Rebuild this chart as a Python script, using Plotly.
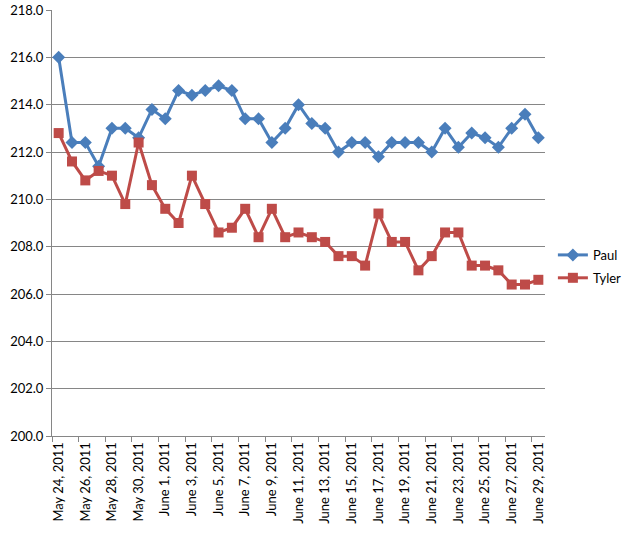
import datetime as dt
import plotly.graph_objects as go

start = dt.date(2011, 5, 24)
dates = [start + dt.timedelta(days=i) for i in range(37)]
categories = [f"{d.strftime('%B')} {d.day}, {d.year}" for d in dates]

paul = [216.0, 212.4, 212.4, 211.4, 213.0, 213.0, 212.6, 213.8, 213.4, 214.6,
        214.4, 214.6, 214.8, 214.6, 213.4, 213.4, 212.4, 213.0, 214.0, 213.2,
        213.0, 212.0, 212.4, 212.4, 211.8, 212.4, 212.4, 212.4, 212.0, 213.0,
        212.2, 212.8, 212.6, 212.2, 213.0, 213.6, 212.6]
tyler = [212.8, 211.6, 210.8, 211.2, 211.0, 209.8, 212.4, 210.6, 209.6, 209.0,
         211.0, 209.8, 208.6, 208.8, 209.6, 208.4, 209.6, 208.4, 208.6, 208.4,
         208.2, 207.6, 207.6, 207.2, 209.4, 208.2, 208.2, 207.0, 207.6, 208.6,
         208.6, 207.2, 207.2, 207.0, 206.4, 206.4, 206.6]

FONT = "Lato, Carlito, 'Liberation Sans', sans-serif"
AX = "#868686"

fig = go.Figure()
fig.add_trace(go.Scatter(x=categories, y=paul, name="Paul", mode="lines+markers",
                         legendgroup="paul",
                         line=dict(color="#4A7EBB", width=3),
                         marker=dict(symbol="diamond", size=10, color="#4A7EBB")))
fig.add_trace(go.Scatter(x=categories, y=tyler, name="Tyler", mode="lines+markers",
                         legendgroup="tyler",
                         line=dict(color="#BE4B48", width=3),
                         marker=dict(symbol="square", size=10, color="#BE4B48")))

fig.update_layout(
    width=628, height=536,
    margin=dict(l=52, r=83, t=10, b=100, autoexpand=False),
    paper_bgcolor="white", plot_bgcolor="white",
    font=dict(family=FONT, size=13, color="black"),
    showlegend=True,
    legend=dict(x=1.016, y=0.398, xanchor="left", yanchor="middle",
                font=dict(size=13), tracegroupgap=3, itemwidth=30,
                bgcolor="rgba(0,0,0,0)"),
    xaxis=dict(type="category", range=[-0.5, 36.5], tickson="boundaries",
               dtick=2, tickangle=-90, showgrid=False, showline=True,
               linecolor=AX, linewidth=1, ticks="outside", ticklen=5,
               tickcolor=AX, tickfont=dict(size=13), zeroline=False,
               automargin=False),
    yaxis=dict(range=[200, 218], dtick=2, tickformat=".1f", showgrid=True,
               gridcolor=AX, gridwidth=1, showline=True, linecolor=AX,
               ticks="outside", ticklen=5, tickcolor=AX, zeroline=False,
               tickfont=dict(size=13), automargin=False),
)

fig.write_html("out.html", config={"displayModeBar": False},
               post_script="document.body.style.margin='0';document.body.style.overflow='hidden';")
